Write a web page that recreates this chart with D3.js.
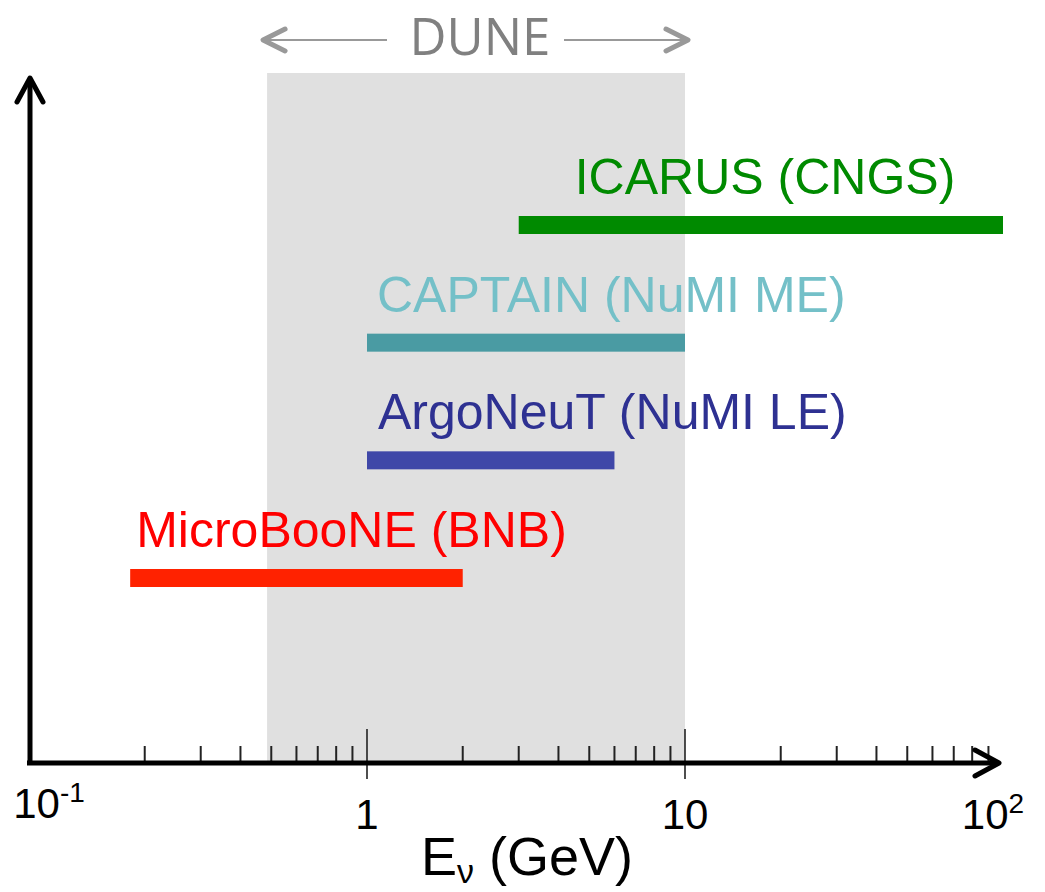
<!DOCTYPE html>
<html>
<head>
<meta charset="utf-8">
<script src="https://cdn.jsdelivr.net/npm/d3@7.9.0/dist/d3.min.js"></script>
<style>
  html, body { margin: 0; padding: 0; background: #fff; }
  svg { display: block; font-family: "Liberation Sans", Arial, sans-serif; }
</style>
</head>
<body>
<svg width="1045" height="892"></svg>
<script>
// experiments, bottom to top
const experiments = ["MicroBooNE (BNB)", "ArgoNeuT (NuMI LE)", "CAPTAIN (NuMI ME)", "ICARUS (CNGS)"];
const eMin = [0.18, 1, 1, 3];     // GeV
const eMax = [2.0, 6, 10, 100];   // GeV
const barColors = ["#ff2200", "#3f47a8", "#4a9ba3", "#008a00"];
const textColors = ["#ff0000", "#2e3192", "#74c0c8", "#008a00"];

// DUNE band
const duneRange = [0.485, 10];

// ticks
const majorTicks = [1, 10];
const minorTicks = [0.2, 0.3, 0.4, 0.5, 0.6, 0.7, 0.8, 0.9,
                    2, 3, 4, 5, 6, 7, 8, 9,
                    20, 30, 40, 50, 60, 70, 80, 90];
const tickLabels = [
  { v: 0.1, base: "10", sup: "-1" },
  { v: 1, base: "1", sup: "" },
  { v: 10, base: "10", sup: "" },
  { v: 100, base: "10", sup: "2" }
];

const svg = d3.select("svg");
const axisY = 763, axisX = 30, plotTop = 73;

const x = d3.scaleLog().domain([1, 10]).range([367, 685]);
const y = d3.scalePoint().domain(experiments).range([578, 225]);

// DUNE shaded region
svg.append("rect")
  .attr("x", x(duneRange[0]))
  .attr("y", plotTop)
  .attr("width", x(duneRange[1]) - x(duneRange[0]))
  .attr("height", axisY - plotTop)
  .attr("fill", "#e0e0e0");

// DUNE arrow header
const dune = svg.append("g").attr("stroke", "#999").attr("fill", "none");
const arrowY = 40;
const leftTip = x(duneRange[0]) - 4, rightTip = x(duneRange[1]) + 3;
dune.append("line").attr("x1", leftTip).attr("x2", 387).attr("y1", arrowY).attr("y2", arrowY).attr("stroke-width", 2);
dune.append("line").attr("x1", 564).attr("x2", rightTip).attr("y1", arrowY).attr("y2", arrowY).attr("stroke-width", 2);
dune.append("path")
  .attr("d", `M${leftTip + 22},${arrowY - 11} L${leftTip},${arrowY} L${leftTip + 22},${arrowY + 11}`)
  .attr("stroke-width", 5).attr("stroke-linecap", "round").attr("stroke-linejoin", "round");
dune.append("path")
  .attr("d", `M${rightTip - 22},${arrowY - 11} L${rightTip},${arrowY} L${rightTip - 22},${arrowY + 11}`)
  .attr("stroke-width", 5).attr("stroke-linecap", "round").attr("stroke-linejoin", "round");
svg.append("text")
  .attr("x", 480).attr("y", 55)
  .attr("text-anchor", "middle")
  .attr("font-family", "'Open Sans', sans-serif")
  .attr("font-size", 51)
  .attr("fill", "#808080")
  .text("DUNE");

// bars
const labelOffset = [6, 11, 10, 56];
const rows = svg.selectAll("g.row")
  .data(experiments)
  .enter()
  .append("g")
  .attr("class", "row");

rows.append("rect")
  .attr("x", (d, i) => x(eMin[i]))
  .attr("y", d => y(d) - 9)
  .attr("width", (d, i) => x(eMax[i]) - x(eMin[i]))
  .attr("height", 18)
  .attr("fill", (d, i) => barColors[i]);

rows.append("text")
  .attr("x", (d, i) => x(eMin[i]) + labelOffset[i])
  .attr("y", d => y(d) - 31)
  .attr("font-size", 50)
  .attr("fill", (d, i) => textColors[i])
  .text(d => d);

// minor ticks (above axis only)
svg.selectAll("line.minor")
  .data(minorTicks)
  .enter()
  .append("line")
  .attr("class", "minor")
  .attr("x1", d => x(d)).attr("x2", d => x(d))
  .attr("y1", axisY - 17).attr("y2", axisY)
  .attr("stroke", "#222").attr("stroke-width", 2);

// major ticks (cross the axis)
svg.selectAll("line.major")
  .data(majorTicks)
  .enter()
  .append("line")
  .attr("class", "major")
  .attr("x1", d => x(d)).attr("x2", d => x(d))
  .attr("y1", axisY - 34).attr("y2", axisY + 16)
  .attr("stroke", "#222").attr("stroke-width", 1.6);

// axes with arrowheads
const axes = svg.append("g").attr("stroke", "#000").attr("fill", "none")
  .attr("stroke-width", 5);
axes.append("path")
  .attr("d", `M${axisX - 3},${axisY} L998,${axisY}`);
axes.append("path")
  .attr("d", `M${axisX},${axisY + 2} L${axisX},79`);
axes.append("path")
  .attr("d", `M975,${axisY - 13} L999,${axisY} L975,${axisY + 13}`)
  .attr("stroke-linecap", "round").attr("stroke-linejoin", "round");
axes.append("path")
  .attr("d", `M${axisX - 13},102 L${axisX},78 L${axisX + 13},102`)
  .attr("stroke-linecap", "round").attr("stroke-linejoin", "round");

// tick labels
const tl = svg.selectAll("text.tick")
  .data(tickLabels)
  .enter()
  .append("text")
  .attr("class", "tick")
  .attr("x", d => x(d.v) + (d.v === 100 ? -10 : 0))
  .attr("y", d => d.v === 0.1 ? 818 : 829)
  .attr("text-anchor", "middle")
  .attr("font-size", 42)
  .attr("fill", "#000");
tl.append("tspan").text(d => d.base);
tl.filter(d => d.sup).append("tspan")
  .attr("font-size", 28)
  .attr("dy", -16)
  .text(d => d.sup);

// x axis title
const title = svg.append("text")
  .attr("x", 421).attr("y", 875)
  .attr("font-size", 54)
  .attr("fill", "#000");
title.append("tspan").text("E");
title.append("tspan").attr("font-size", 34).attr("dy", 8).text("ν");
title.append("tspan").attr("dy", -8).text(" (GeV)");
</script>
</body>
</html>
